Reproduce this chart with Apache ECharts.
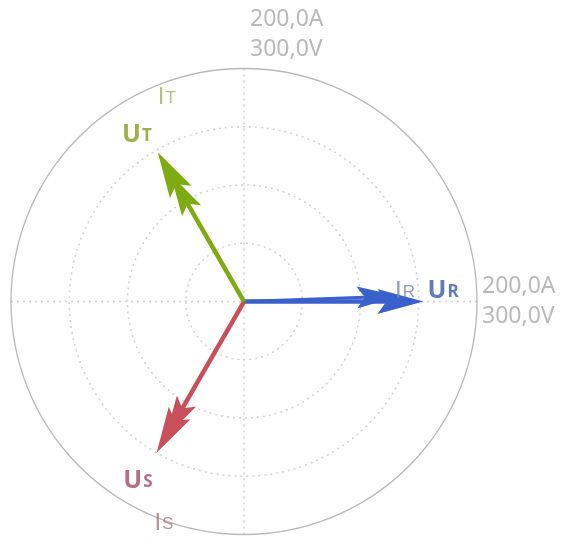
<!DOCTYPE html>
<html>
<head>
<meta charset="utf-8">
<script src="https://cdn.jsdelivr.net/npm/echarts@6/dist/echarts.min.js"></script>
<style>html,body{margin:0;padding:0;background:#fff}#c{width:561px;height:541px}</style>
</head>
<body>
<div id="c"></div>
<script>
// ---- data ----
const phases = ['R', 'S', 'T'];
const voltageMag = [231, 225, 222];   // V
const voltageAng = [0, 240, 120];     // degrees
const currentMag = [133, 135, 126];   // A
const currentAng = [2, 240, 120];     // degrees
const voltMax = 300;
const ampMax = 200;
const scaleLabels = ['200,0A', '300,0V'];

// ---- style config ----
const arrowColor = { R: '#3a60cc', S: '#c94f5b', T: '#7eab12' };
const uLabelColor = { R: '#3a5ab2', S: '#a44c63', T: '#889b22' };
const iLabelColor = { R: '#6f84bd', S: '#a27a78', T: '#a3b35a' };
// label anchor spots in voltage-scale polar coordinates [radius, angle]
const uLabelSpot = { R: [257, 3.9], S: [265, 239], T: [258, 122.3] };
const iLabelSpot = { R: [208, 4.8], S: [300, 249.9], T: [285, 110.4] };
const CENTER = [244, 301.5];
const RADIUS = 233;
const gridGray = '#d2d2d2';
const textGray = '#a9a9a9';

function arrowRender(width, headLen, headHalf, notch) {
  return function (params, api) {
    const r = api.value(0), a = api.value(1);
    const p0 = api.coord([0, a]);
    const p1 = api.coord([r, a]);
    const dx = p1[0] - p0[0], dy = p1[1] - p0[1];
    const len = Math.hypot(dx, dy) || 1;
    const ux = dx / len, uy = dy / len, nx = -uy, ny = ux;
    const bx = p1[0] - ux * headLen, by = p1[1] - uy * headLen;
    const mx = p1[0] - ux * (headLen - notch), my = p1[1] - uy * (headLen - notch);
    const color = api.visual('color');
    return {
      type: 'group',
      children: [
        { type: 'line', shape: { x1: p0[0], y1: p0[1], x2: mx, y2: my },
          style: { stroke: color, lineWidth: width } },
        { type: 'polygon',
          shape: { points: [[p1[0], p1[1]], [bx + nx * headHalf, by + ny * headHalf], [mx, my], [bx - nx * headHalf, by - ny * headHalf]] },
          style: { fill: color } }
      ]
    };
  };
}

const voltageData = phases.map((p, i) => ({ value: [voltageMag[i], voltageAng[i]], itemStyle: { color: arrowColor[p] } }));
const currentData = phases.map((p, i) => ({ value: [currentMag[i], currentAng[i]], itemStyle: { color: arrowColor[p] } }));

const labelData = [];
phases.forEach(p => {
  labelData.push({
    value: uLabelSpot[p],
    label: {
      formatter: '{m|U}{s|' + p + '}',
      rich: {
        m: { fontSize: 25, fontWeight: 'bold', color: uLabelColor[p], fontFamily: 'Noto Sans', verticalAlign: 'bottom', lineHeight: 30 },
        s: { fontSize: 17, fontWeight: 'bold', color: uLabelColor[p], fontFamily: 'Noto Sans', verticalAlign: 'bottom', lineHeight: 30, padding: [0, 0, 2, 1] }
      }
    }
  });
  labelData.push({
    value: iLabelSpot[p],
    label: {
      formatter: '{m|I}{s|' + p + '}',
      rich: {
        m: { fontSize: 24, color: iLabelColor[p], fontFamily: 'Liberation Sans', verticalAlign: 'bottom', lineHeight: 30 },
        s: { fontSize: 17, color: iLabelColor[p], fontFamily: 'Liberation Sans', verticalAlign: 'bottom', lineHeight: 30, padding: [0, 0, 2, 1] }
      }
    }
  });
});

const scaleText = scaleLabels.join('\n');
const scaleData = [
  { value: [voltMax, 90], label: { position: [6, -64] } },
  { value: [voltMax, 0], label: { position: [5, -30] } }
];

const chart = echarts.init(document.getElementById('c'), null, { renderer: 'canvas' });
chart.setOption({
  animation: false,
  backgroundColor: '#fff',
  polar: [
    { center: CENTER, radius: RADIUS },
    { center: CENTER, radius: RADIUS }
  ],
  angleAxis: [
    {
      polarIndex: 0, type: 'value', min: 0, max: 360, interval: 90, startAngle: 0, clockwise: false,
      axisLine: { show: true, lineStyle: { color: '#b9b9b9', width: 1.3 } },
      axisTick: { show: false }, axisLabel: { show: false },
      splitLine: { show: true, lineStyle: { color: gridGray, type: [2, 4], width: 1.5 } }
    },
    {
      polarIndex: 1, type: 'value', min: 0, max: 360, startAngle: 0, clockwise: false, show: false
    }
  ],
  radiusAxis: [
    {
      polarIndex: 0, type: 'value', min: 0, max: voltMax, interval: 75,
      axisLine: { show: false }, axisTick: { show: false }, axisLabel: { show: false },
      splitLine: { show: true, lineStyle: { color: [gridGray, gridGray, gridGray, gridGray, 'rgba(0,0,0,0)'], type: [2, 4], width: 1.5 } }
    },
    {
      polarIndex: 1, type: 'value', min: 0, max: ampMax, show: false
    }
  ],
  series: [
    {
      type: 'custom', coordinateSystem: 'polar', polarIndex: 1, z: 3,
      renderItem: arrowRender(3, 42, 11, 8), data: currentData, silent: true
    },
    {
      type: 'custom', coordinateSystem: 'polar', polarIndex: 0, z: 4,
      renderItem: arrowRender(4.5, 46, 12.5, 9), data: voltageData, silent: true
    },
    {
      type: 'scatter', coordinateSystem: 'polar', polarIndex: 0, symbolSize: 0, silent: true, z: 5,
      data: labelData,
      label: { show: true, position: [0, 0], align: 'center', verticalAlign: 'middle' }
    },
    {
      type: 'scatter', coordinateSystem: 'polar', polarIndex: 0, symbolSize: 0, silent: true, z: 5,
      data: scaleData,
      label: {
        show: true, formatter: scaleText, align: 'left', verticalAlign: 'top',
        fontSize: 23, lineHeight: 30, color: textGray, fontFamily: 'Noto Sans'
      }
    }
  ]
});
</script>
</body>
</html>
